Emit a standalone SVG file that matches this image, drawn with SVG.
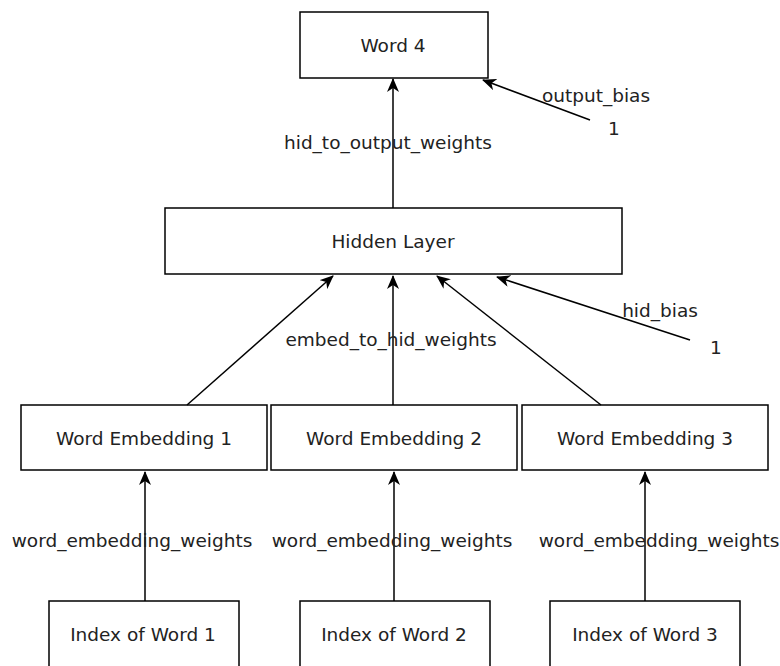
<svg xmlns="http://www.w3.org/2000/svg" width="780" height="666" viewBox="0 0 780 666">
<style>
rect.n{fill:#fff;stroke:#000;stroke-width:1.5}
text{font-family:"DejaVu Sans",sans-serif;font-size:18.5px;fill:#222;text-anchor:middle}
.c line{stroke:#000;stroke-width:1.5;marker-end:url(#ah)}
</style>
<defs>
<marker id="ah" viewBox="0 0 14 12" refX="13" refY="6" markerWidth="14" markerHeight="12" markerUnits="userSpaceOnUse" orient="auto">
<path d="M0,0 L14,6 L0,12 L4,6 Z" fill="#000"/>
</marker>
</defs>
<rect width="780" height="666" fill="#fff"/>
<g id="word4"><rect class="n" x="300" y="12" width="188" height="66"/><text x="393" y="52">Word 4</text></g>
<g id="hidden"><rect class="n" x="165" y="208" width="457" height="66"/><text x="393" y="248">Hidden Layer</text></g>
<g id="we1"><rect class="n" x="21" y="405" width="246" height="65"/><text x="144" y="445">Word Embedding 1</text></g>
<g id="we2"><rect class="n" x="271" y="405" width="246" height="65"/><text x="394" y="445">Word Embedding 2</text></g>
<g id="we3"><rect class="n" x="522" y="405" width="246" height="65"/><text x="645" y="445">Word Embedding 3</text></g>
<g id="idx1"><rect class="n" x="49" y="601" width="190" height="80"/><text x="143" y="641">Index of Word 1</text></g>
<g id="idx2"><rect class="n" x="300" y="601" width="190" height="80"/><text x="394" y="641">Index of Word 2</text></g>
<g id="idx3"><rect class="n" x="550" y="601" width="190" height="80"/><text x="645" y="641">Index of Word 3</text></g>
<g id="connectors" class="c">
<line x1="393" y1="208" x2="393" y2="79"/>
<line x1="590" y1="120" x2="483" y2="80"/>
<line x1="187" y1="405" x2="333" y2="276"/>
<line x1="393" y1="405" x2="393" y2="276"/>
<line x1="601" y1="405" x2="437" y2="276"/>
<line x1="690" y1="340" x2="497" y2="277"/>
<line x1="145" y1="601" x2="145" y2="472"/>
<line x1="394" y1="601" x2="394" y2="472"/>
<line x1="645" y1="601" x2="645" y2="472"/>
</g>
<g id="labels">
<text x="388" y="149">hid_to_output_weights</text>
<text x="596" y="102">output_bias</text>
<text x="614" y="135">1</text>
<text x="391" y="346">embed_to_hid_weights</text>
<text x="660" y="317">hid_bias</text>
<text x="716" y="354">1</text>
<text x="132" y="547">word_embedding_weights</text>
<text x="392" y="547">word_embedding_weights</text>
<text x="659" y="547">word_embedding_weights</text>
</g>
</svg>
